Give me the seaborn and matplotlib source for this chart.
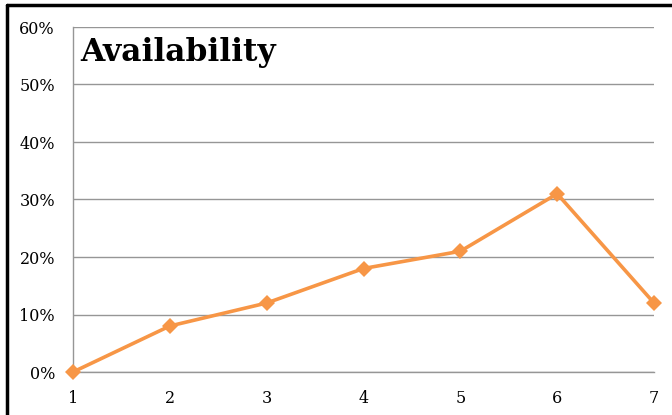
import matplotlib
matplotlib.use("Agg")
import matplotlib.pyplot as plt
from matplotlib.ticker import PercentFormatter
from matplotlib.lines import Line2D
import seaborn as sns
import pandas as pd

# Availability by step
steps = [1, 2, 3, 4, 5, 6, 7]
availability = [0, 8, 12, 18, 21, 31, 12]
y_ticks = [0, 10, 20, 30, 40, 50, 60]

df = pd.DataFrame({"step": steps, "availability": availability})

sns.set_theme(style="white")
plt.rcParams["font.family"] = ["DejaVu Serif"]

fig = plt.figure(figsize=(6.72, 4.15), dpi=100)
ax = fig.add_axes([73 / 672, 1 - 372 / 415, (654 - 73) / 672, (372 - 27) / 415])

sns.lineplot(data=df, x="step", y="availability", ax=ax, color="#F79646",
             linewidth=2.6, marker="D", markersize=8, markeredgewidth=0,
             clip_on=False, zorder=5)

ax.set_xlim(1, 7)
ax.set_ylim(0, 60)
ax.set_xticks(steps)
ax.set_yticks(y_ticks)
ax.yaxis.set_major_formatter(PercentFormatter(decimals=0))
ax.set_xlabel("")
ax.set_ylabel("")

grid_color = "#969696"
ax.yaxis.grid(True, color=grid_color, linewidth=1)
ax.xaxis.grid(False)
for side in ["top", "right"]:
    ax.spines[side].set_visible(False)
ax.spines["left"].set_color(grid_color)
ax.spines["bottom"].set_color(grid_color)
ax.spines["left"].set_linewidth(1)
ax.spines["bottom"].set_linewidth(1)

ax.tick_params(axis="x", which="major", direction="out", length=5, width=1,
               color=grid_color, pad=8, labelsize=11.5, labelcolor="black")
ax.tick_params(axis="y", which="major", length=0, pad=13, labelsize=11.5,
               labelcolor="black")
ax.set_axisbelow(True)

ax.text(80 / 672, 1 - 53 / 415, "Availability", transform=fig.transFigure,
        fontsize=22.5, fontweight="bold", color="black", va="center", ha="left")

# Frame lines along the top and left edges of the figure
fig.add_artist(Line2D([7 / 672, 1], [1 - 5 / 415, 1 - 5 / 415],
                      transform=fig.transFigure, color="black", linewidth=2.5))
fig.add_artist(Line2D([7 / 672, 7 / 672], [0, 1 - 5 / 415],
                      transform=fig.transFigure, color="black", linewidth=2.5))

fig.savefig("out.png", dpi=100)
